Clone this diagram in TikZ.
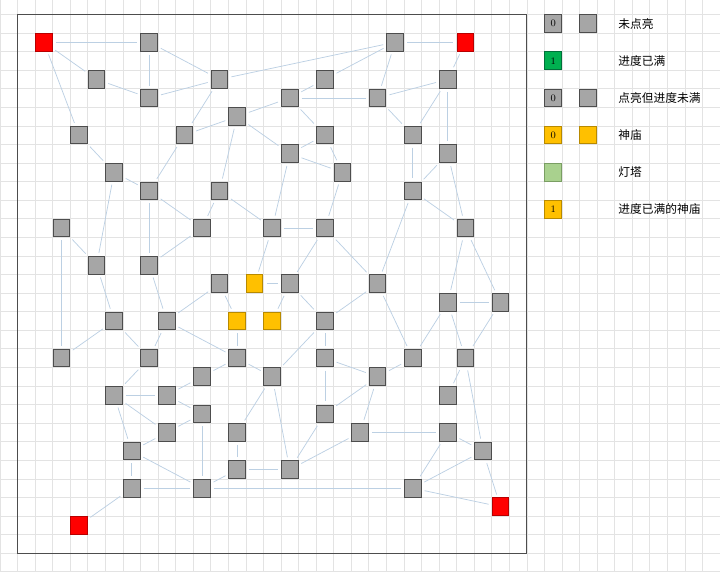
\documentclass[tikz,border=0pt]{standalone}
\usepackage{fontspec}
\newfontfamily\cjk{Noto Sans CJK SC}
\usetikzlibrary{positioning,calc}
\definecolor{cellgray}{HTML}{A6A6A6}
\definecolor{celledge}{HTML}{4D4D4D}
\definecolor{cellred}{HTML}{FF0000}
\definecolor{rededge}{HTML}{B80000}
\definecolor{cellyel}{HTML}{FFC000}
\definecolor{yeledge}{HTML}{B88A00}
\definecolor{cellgreen}{HTML}{00B050}
\definecolor{greenedge}{HTML}{00703A}
\definecolor{celllight}{HTML}{A9D18E}
\definecolor{lightedge}{HTML}{7A9E63}
\definecolor{linkblue}{HTML}{BCD0E3}
\definecolor{gridgray}{HTML}{E3E3E3}
\tikzset{
	cell/.style={rectangle,inner sep=0pt,line width=0.8pt,minimum width=13.5pt,minimum height=14.3pt,font=\fontsize{8}{8}\selectfont},
	grayc/.style={cell,fill=cellgray,draw=celledge},
	redc/.style={cell,fill=cellred,draw=rededge},
	yelc/.style={cell,fill=cellyel,draw=yeledge},
	greenc/.style={cell,fill=cellgreen,draw=greenedge},
	lightc/.style={cell,fill=celllight,draw=lightedge},
	link/.style={draw=linkblue,line width=0.6pt,shorten >=2.5pt,shorten <=2.5pt},
	gridline/.style={draw=gridgray,line width=0.5pt},
	frame/.style={draw=celledge,line width=0.8pt},
	legtext/.style={anchor=west,inner sep=0pt,font=\cjk\fontsize{9.5}{11}\selectfont}
}

\begin{document}
\begin{tikzpicture}[x=0.5cm,y=-0.5291cm]
		\useasboundingbox (0,-0.77) rectangle (41,30.03);
		% background grid
		\foreach \i in {0,...,41} \draw[gridline] (\i,-0.77) -- (\i,30.03);
		\foreach \j in {0,...,30} \draw[gridline] (0,\j) -- (41,\j);
		\draw[frame] (1,0) rectangle (30,29);
		
		% cells, named by column-row
		\foreach \c/\r in {2/1,26/1,28/26,4/27}
			\node[redc] (N\c-\r) at (\c+0.5,\r+0.5) {};
		\foreach \c/\r in {14/14,13/16,15/16}
			\node[yelc] (N\c-\r) at (\c+0.5,\r+0.5) {};
		\foreach \c/\r in {8/1,22/1,5/3,12/3,18/3,25/3,8/4,16/4,21/4,13/5,4/6,10/6,18/6,23/6,16/7,25/7,
			6/8,19/8,8/9,12/9,23/9,3/11,11/11,15/11,18/11,26/11,5/13,8/13,12/14,16/14,21/14,25/15,28/15,
			6/16,9/16,18/16,3/18,8/18,13/18,18/18,23/18,26/18,11/19,15/19,21/19,6/20,9/20,25/20,11/21,18/21,
			9/22,13/22,20/22,25/22,7/23,27/23,13/24,16/24,7/25,11/25,23/25}
			\node[grayc] (N\c-\r) at (\c+0.5,\r+0.5) {};
		
		% links
		\foreach \a/\b in {2-1/8-1,2-1/5-3,2-1/4-6,8-1/8-4,8-1/12-3,5-3/8-4,8-4/12-3,12-3/22-1,12-3/10-6,
			10-6/13-5,13-5/16-4,13-5/12-9,13-5/16-7,4-6/6-8,6-8/8-9,6-8/5-13,10-6/8-9,12-9/15-11,12-9/11-11,
			8-9/11-11,8-9/8-13,22-1/26-1,22-1/18-3,22-1/21-4,26-1/25-3,18-3/16-4,16-4/21-4,16-4/18-6,
			21-4/25-3,21-4/23-6,25-3/23-6,25-3/25-7,18-6/16-7,18-6/19-8,16-7/19-8,23-6/23-9,25-7/23-9,
			25-7/26-11,16-7/15-11,19-8/18-11,15-11/18-11,18-11/16-14,18-11/21-14,23-9/21-14,23-9/26-11,
			26-11/25-15,26-11/28-15,25-15/28-15,15-11/14-14,14-14/16-14,16-14/15-16,16-14/18-16,21-14/18-16,
			21-14/23-18,25-15/23-18,25-15/26-18,28-15/26-18,18-16/18-18,18-16/15-19,18-18/21-19,23-18/21-19,
			13-18/15-19,11-11/8-13,3-11/5-13,3-11/3-18,5-13/6-16,8-13/9-16,12-14/9-16,12-14/13-16,13-16/13-18,
			6-16/3-18,6-16/8-18,9-16/8-18,9-16/13-18,13-18/11-19,8-18/6-20,6-20/9-20,9-20/11-19,9-20/11-21,
			6-20/9-22,6-20/7-23,9-22/11-21,7-23/9-22,7-23/7-25,7-23/11-25,11-21/11-25,11-25/13-24,7-25/11-25,
			7-25/4-27,11-25/23-25,13-22/13-24,13-22/15-19,13-24/16-24,15-19/16-24,16-24/18-21,18-21/21-19,
			18-18/18-21,21-19/20-22,16-24/20-22,20-22/25-22,25-22/27-23,25-22/23-25,27-23/23-25,23-25/28-26,
			27-23/28-26,26-18/25-20,26-18/27-23}
			\draw[link] (N\a) -- (N\b);
		
		% legend
		\node[grayc] (L1a) at (31.5,0.5) {0};
		\node[grayc] (L1b) at (33.5,0.5) {};
		\node[legtext] (T1) at (35.2,0.5) {未点亮};
		\node[greenc] (L2a) at (31.5,2.5) {1};
		\node[legtext] (T2) at (35.2,2.5) {进度已满};
		\node[grayc] (L3a) at (31.5,4.5) {0};
		\node[grayc] (L3b) at (33.5,4.5) {};
		\node[legtext] (T3) at (35.2,4.5) {点亮但进度未满};
		\node[yelc] (L4a) at (31.5,6.5) {0};
		\node[yelc] (L4b) at (33.5,6.5) {};
		\node[legtext] (T4) at (35.2,6.5) {神庙};
		\node[lightc] (L5a) at (31.5,8.5) {};
		\node[legtext] (T5) at (35.2,8.5) {灯塔};
		\node[yelc] (L6a) at (31.5,10.5) {1};
		\node[legtext] (T6) at (35.2,10.5) {进度已满的神庙};
	\end{tikzpicture}
\end{document}
